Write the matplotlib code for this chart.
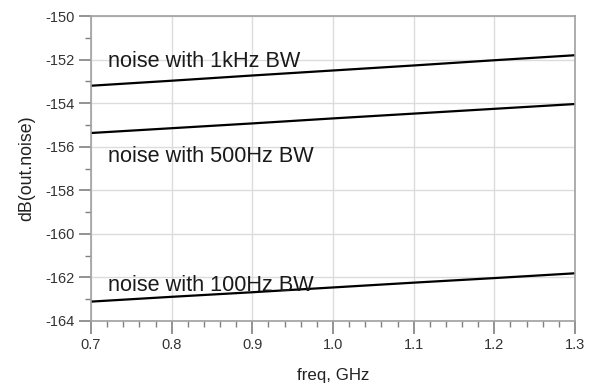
import matplotlib.pyplot as plt
from matplotlib.ticker import MultipleLocator

plt.rcParams['font.family'] = ['Liberation Sans', 'DejaVu Sans']

# frequency sweep, GHz
freq = [0.7, 0.8, 0.9, 1.0, 1.1, 1.2, 1.3]

# output noise in dB for three measurement bandwidths
noise_1k = [-153.20, -152.97, -152.73, -152.50, -152.27, -152.03, -151.80]
noise_500 = [-155.37, -155.15, -154.93, -154.70, -154.48, -154.26, -154.04]
noise_100 = [-163.11, -162.89, -162.68, -162.46, -162.24, -162.03, -161.81]

labels = ['noise with 1kHz BW', 'noise with 500Hz BW', 'noise with 100Hz BW']
label_y = [-152.11, -156.47, -162.39]

fig = plt.figure(figsize=(5.95, 3.86), dpi=100)
ax = fig.add_axes([0.1529, 0.1684, 0.8135, 0.7901])

for series in (noise_1k, noise_500, noise_100):
    ax.plot(freq, series, color='black', lw=1.6)

for txt, yy in zip(labels, label_y):
    ax.text(0.7205, yy, txt, fontsize=15.6, color='#1a1a1a', va='center', ha='left')

ax.set_xlim(0.7, 1.3)
ax.set_ylim(-164, -150)
ax.xaxis.set_major_locator(MultipleLocator(0.1))
ax.xaxis.set_minor_locator(MultipleLocator(0.02))
ax.yaxis.set_major_locator(MultipleLocator(2))
ax.yaxis.set_minor_locator(MultipleLocator(1))
ax.xaxis.set_major_formatter(plt.FormatStrFormatter('%.1f'))
ax.yaxis.set_major_formatter(plt.FormatStrFormatter('%d'))

ax.grid(True, which='major', color='#dcdcdc', lw=1.0)
ax.set_axisbelow(True)
for sp in ax.spines.values():
    sp.set_color('#a0a0a0')
    sp.set_linewidth(1.2)

ax.tick_params(which='major', length=9, width=1.2, color='#808080',
               labelsize=10.5, labelcolor='#333333', pad=3)
ax.tick_params(which='minor', length=4.5, width=1.0, color='#808080')

ax.set_xlabel('freq, GHz', fontsize=12.2, color='#222222', labelpad=12)
ax.set_ylabel('dB(out.noise)', fontsize=12.8, color='#222222', labelpad=7)

fig.savefig('out.png', dpi=100)
